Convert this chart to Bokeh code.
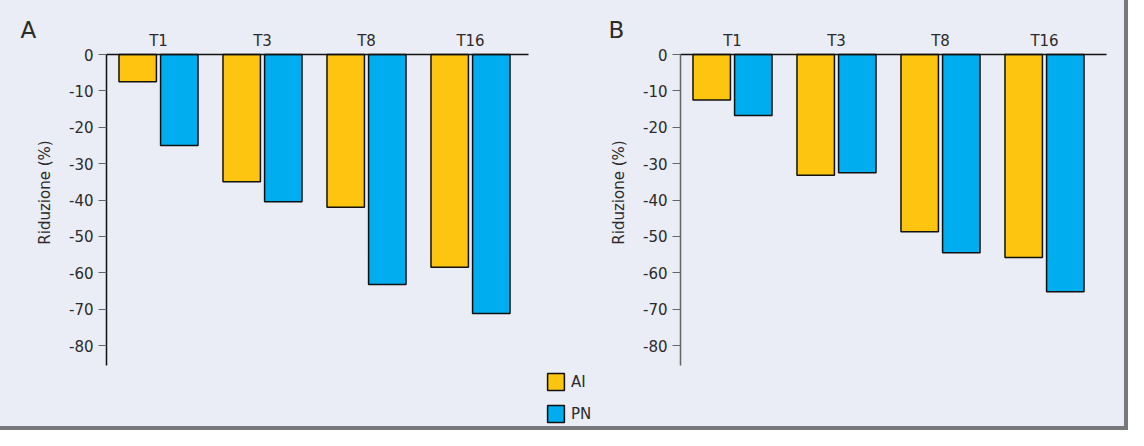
from bokeh.plotting import figure
from bokeh.models import (Range1d, FixedTicker, Legend, LegendItem, ColumnDataSource,
                          LinearAxis, Label)
from bokeh.transform import dodge
from bokeh.layouts import row
from bokeh.embed import file_html
from bokeh.resources import INLINE

categories = ["T1", "T3", "T8", "T16"]
series_names = ["AI", "PN"]
a_ai = [-7.5, -35.0, -42.0, -58.5]
a_pn = [-25.0, -40.5, -63.2, -71.2]
b_ai = [-12.5, -33.2, -48.7, -55.8]
b_pn = [-16.8, -32.5, -54.5, -65.2]
y_ticks = [0, -10, -20, -30, -40, -50, -60, -70, -80]
y_label = "Riduzione (%)"

BG = "#EAEDF5"
C_AI = "#FDC50F"
C_PN = "#00AEEF"
TXT = "#2b2b2b"
FONT = "DejaVu Sans"

PX_PER_CAT = 104.0          # horizontal pixels per category
PX_PER_UNIT = 291.0 / 80.0  # vertical pixels per percentage point
ZERO_Y = 54                 # pixel row of the zero line
H = 426


def panel(letter, ai, pn, width, axis_px, letter_px, x_axis_end, axis_color,
          with_legend=False):
    idx = list(range(len(categories)))

    def dx(px):   # pixel column -> data x
        return -0.5 + (px - axis_px) / PX_PER_CAT

    def dy(py):   # pixel row -> data y
        return -(py - ZERO_Y) / PX_PER_UNIT

    p = figure(x_range=Range1d(dx(0), dx(width)), y_range=Range1d(dy(H), dy(0)),
               width=width, height=H, min_border=0,
               x_axis_location=None, y_axis_location=None,
               background_fill_color=BG, border_fill_color=BG,
               outline_line_color=None, title=None,
               output_backend="svg", toolbar_location=None)
    p.grid.visible = False

    src = ColumnDataSource(dict(idx=idx, cat=categories, ai=ai, pn=pn))
    r_ai = p.vbar(x=dodge("idx", -0.2), top=0, bottom="ai", width=0.36,
                  fill_color=C_AI, line_color="#111111", line_width=1.5, source=src)
    r_pn = p.vbar(x=dodge("idx", 0.2), top=0, bottom="pn", width=0.36,
                  fill_color=C_PN, line_color="#111111", line_width=1.5, source=src)

    xa = LinearAxis(fixed_location=0, ticker=FixedTicker(ticks=idx),
                    major_label_overrides={i: c for i, c in zip(idx, categories)},
                    bounds=(-0.5, x_axis_end),
                    axis_line_color="#111111", axis_line_width=1.5,
                    major_tick_line_color=None, minor_tick_line_color=None,
                    major_label_standoff=-1, major_label_text_font=FONT,
                    major_label_text_font_size="15px", major_label_text_color=TXT)
    p.add_layout(xa, "above")

    ya = LinearAxis(fixed_location=-0.5, ticker=FixedTicker(ticks=y_ticks),
                    major_label_overrides={t: str(t) for t in y_ticks},
                    bounds=(-85.5, 0),
                    axis_line_color=axis_color, axis_line_width=1.5,
                    major_tick_line_color="#666666", major_tick_in=0, major_tick_out=8,
                    minor_tick_line_color=None, major_label_standoff=5,
                    major_label_text_font=FONT, major_label_text_font_size="15px",
                    major_label_text_color=TXT)
    p.add_layout(ya, "left")

    p.add_layout(Label(x=dx(axis_px - 62), y=dy(192), text=y_label, angle=90,
                       angle_units="deg", text_align="center", text_baseline="alphabetic",
                       text_font=FONT, text_font_size="15px", text_color=TXT))
    p.add_layout(Label(x=dx(letter_px), y=dy(29), text=letter,
                       text_align="left", text_baseline="alphabetic",
                       text_font=FONT, text_font_size="23px", text_color=TXT))

    if with_legend:
        leg = Legend(items=[LegendItem(label=series_names[0], renderers=[r_ai]),
                            LegendItem(label=series_names[1], renderers=[r_pn])],
                     location=(545, 2), orientation="vertical",
                     glyph_width=21, glyph_height=21, spacing=11,
                     label_standoff=5, padding=0, margin=0,
                     label_text_font=FONT, label_text_font_size="15px",
                     label_text_color=TXT,
                     border_line_alpha=0, background_fill_alpha=0)
        p.add_layout(leg, "center")
    return p


pa = panel("A", a_ai, a_pn, 600, 106, 20, 3.56, "#111111", with_legend=True)
pb = panel("B", b_ai, b_pn, 524, 80, 8, 3.6, "#666666")

layout = row(pa, pb, styles={"border-right": "4px solid #77787b",
                             "border-bottom": "4px solid #77787b",
                             "background-color": BG})

open("out.html", "w").write(file_html(layout, INLINE))
